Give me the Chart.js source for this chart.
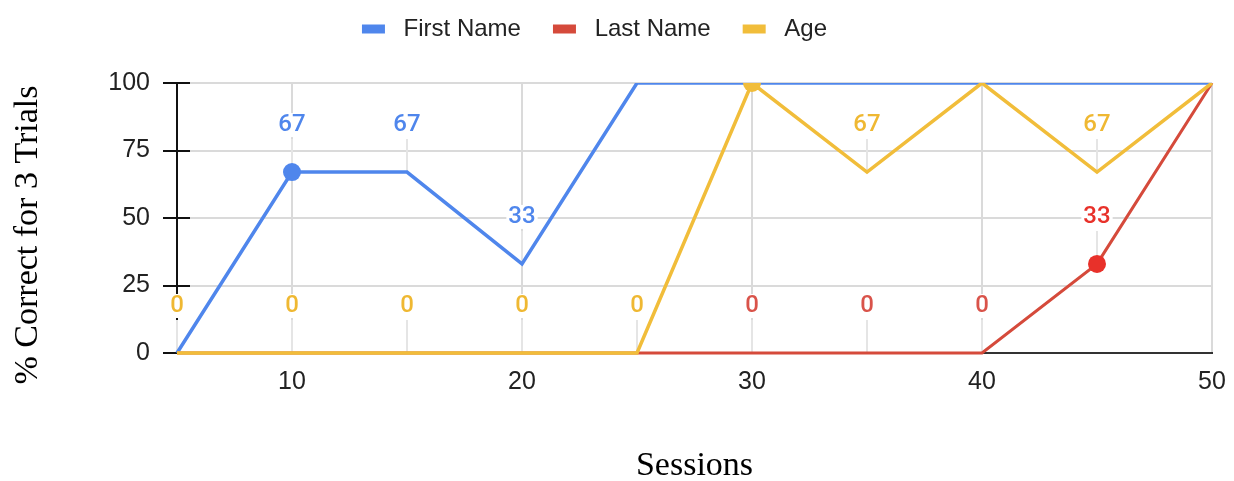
<!DOCTYPE html>
<html>
<head>
<meta charset="utf-8">
<script src="https://cdn.jsdelivr.net/npm/chart.js@4.4.1/dist/chart.umd.min.js"></script>
<style>
  html, body { margin: 0; padding: 0; background: #ffffff; }
  #wrap { width: 1234px; height: 481px; }
</style>
</head>
<body>
<div id="wrap"><canvas id="chart" width="1234" height="481"></canvas></div>
<script>
// Session numbers and % correct (out of 3 trials) per item
const sessions  = [5, 10, 15, 20, 25, 30, 35, 40, 45, 50];
const firstName = [0, 67, 67, 33, 100, 100, 100, 100, 100, 100];
const lastName  = [0, 0, 0, 0, 0, 0, 0, 0, 33, 100];
const age       = [0, 0, 0, 0, 0, 100, 67, 100, 67, 100];

const seriesNames = ['First Name', 'Last Name', 'Age'];
// session whose point is drawn as a dot, per series
const dotSessions = [10, 45, 30];

const xTicks = [10, 20, 30, 40, 50];
const yTicks = [0, 25, 50, 75, 100];

const COLORS = ['#4f86ec', '#d54a3b', '#f1bd3a'];
const LINE_WIDTHS = [3.5, 3, 3.5];
const DOT_COLORS = ['#4f86ec', '#e8312a', '#f1bd3a'];
const LABEL_COLORS = ['#4f86ec', '#d9534a', '#efb832'];
const LABEL_HIGHLIGHT = ['#4f86ec', '#e8312a', '#efb832'];
const LABEL_GAP = 47;
const LABEL_FONT = '500 24px Roboto';
const SANS = 'Liberation Sans';
const SERIF = 'Liberation Serif';

const seriesValues = [firstName, lastName, age];

const datasets = seriesValues.map((vals, i) => ({
  label: seriesNames[i],
  data: sessions.map((s, k) => ({ x: s, y: vals[k] })),
  borderColor: COLORS[i],
  backgroundColor: COLORS[i],
  borderWidth: LINE_WIDTHS[i],
  tension: 0,
  pointRadius: sessions.map(s => (s === dotSessions[i] ? 9 : 0)),
  pointHoverRadius: sessions.map(s => (s === dotSessions[i] ? 9 : 0)),
  pointBackgroundColor: DOT_COLORS[i],
  pointBorderWidth: 0,
  order: 2 - i,
  clip: { left: 10, top: 0, right: 10, bottom: 10 }
}));

// visit every value label: values below 100 carry a label above the point
function eachLabel(chart, fn) {
  chart.data.datasets.forEach((ds, di) => {
    const meta = chart.getDatasetMeta(di);
    ds.data.forEach((pt, k) => {
      if (pt.y >= 100) return;
      const el = meta.data[k];
      fn(di, pt, el.x, el.y, el.y - LABEL_GAP);
    });
  });
}

// empty band between the legend and the plot area
const legendGap = {
  id: 'legendGap',
  beforeInit(chart) {
    Chart.layouts.addBox(chart, {
      position: 'top',
      weight: 500,
      fullSize: true,
      options: {},
      isHorizontal() { return true; },
      getPadding() { return { top: 0, left: 0, right: 0, bottom: 0 }; },
      update(maxWidth) { this.width = maxWidth; this.height = 32; },
      draw() {}
    });
  }
};

const annotations = {
  id: 'annotations',
  beforeDatasetsDraw(chart) {
    const ctx = chart.ctx;
    const area = chart.chartArea;
    const ys = chart.scales.y;
    ctx.save();
    // leader lines from each value label down to its point
    ctx.strokeStyle = '#e5e5e5';
    ctx.lineWidth = 2;
    eachLabel(chart, (di, pt, px, py, ly) => {
      ctx.beginPath();
      ctx.moveTo(px, ly + 14);
      ctx.lineTo(px, py);
      ctx.stroke();
    });
    // tick marks crossing the value axis
    ctx.strokeStyle = '#111111';
    ctx.lineWidth = 2;
    yTicks.forEach(v => {
      const py = Math.round(ys.getPixelForValue(v));
      ctx.beginPath();
      ctx.moveTo(area.left - 14, py);
      ctx.lineTo(area.left + 13, py);
      ctx.stroke();
    });
    ctx.restore();
  },
  afterDatasetsDraw(chart) {
    const ctx = chart.ctx;
    ctx.save();
    ctx.font = LABEL_FONT;
    ctx.textAlign = 'center';
    ctx.textBaseline = 'middle';
    eachLabel(chart, (di, pt, px, py, ly) => {
      const text = String(pt.y);
      const w = ctx.measureText(text).width;
      // white backing so grid and axis lines break around the label
      ctx.fillStyle = '#ffffff';
      ctx.fillRect(px - w / 2 - 2, ly - 12, w + 4, 24);
      ctx.fillStyle = pt.x === dotSessions[di] ? LABEL_HIGHLIGHT[di] : LABEL_COLORS[di];
      ctx.fillText(text, px, ly);
    });
    ctx.restore();
  },
  afterDraw(chart) {
    const ctx = chart.ctx;
    ctx.save();
    ctx.translate(28, 235);
    ctx.rotate(-Math.PI / 2);
    ctx.font = '34px "' + SERIF + '"';
    ctx.fillStyle = '#000000';
    ctx.textAlign = 'center';
    ctx.textBaseline = 'middle';
    ctx.fillText('% Correct for 3 Trials', 0, 0);
    ctx.restore();
  }
};

new Chart(document.getElementById('chart'), {
  type: 'line',
  data: { datasets },
  plugins: [legendGap, annotations],
  options: {
    responsive: false,
    devicePixelRatio: 1,
    animation: false,
    layout: { padding: { left: -23, right: 22, top: -15, bottom: 0 } },
    plugins: {
      tooltip: { enabled: false },
      legend: {
        position: 'top',
        align: 'center',
        labels: {
          font: { family: SANS, size: 24 },
          color: '#222222',
          boxWidth: 23,
          boxHeight: 9,
          padding: 32,
          sort: (a, b) => a.datasetIndex - b.datasetIndex,
          generateLabels(chart) {
            return chart.data.datasets.map((ds, i) => ({
              text: ' ' + ds.label,
              fillStyle: COLORS[i],
              strokeStyle: COLORS[i],
              lineWidth: 0,
              fontColor: '#222222',
              hidden: false,
              datasetIndex: i
            }));
          }
        }
      }
    },
    scales: {
      x: {
        type: 'linear',
        min: 5,
        max: 50,
        afterBuildTicks: s => { s.ticks = xTicks.map(v => ({ value: v })); },
        afterFit: s => { s.height = 128; s.paddingLeft = 0; s.paddingRight = 0; },
        ticks: { font: { family: SANS, size: 25 }, color: '#222222', padding: 14 },
        grid: { color: '#dadada', lineWidth: 2, drawTicks: false },
        border: { color: '#333333', width: 2 },
        title: {
          display: true,
          text: 'Sessions',
          font: { family: SERIF, size: 34, lineHeight: 0.88 },
          color: '#000000',
          padding: 0
        }
      },
      y: {
        min: 0,
        max: 100,
        afterBuildTicks: s => { s.ticks = yTicks.map(v => ({ value: v })); },
        afterFit: s => { s.width = 200; },
        ticks: { font: { family: SANS, size: 25 }, color: '#222222', padding: 27 },
        grid: { color: '#dadada', lineWidth: 2, drawTicks: false },
        border: { color: '#111111', width: 2 }
      }
    }
  }
});
</script>
</body>
</html>
